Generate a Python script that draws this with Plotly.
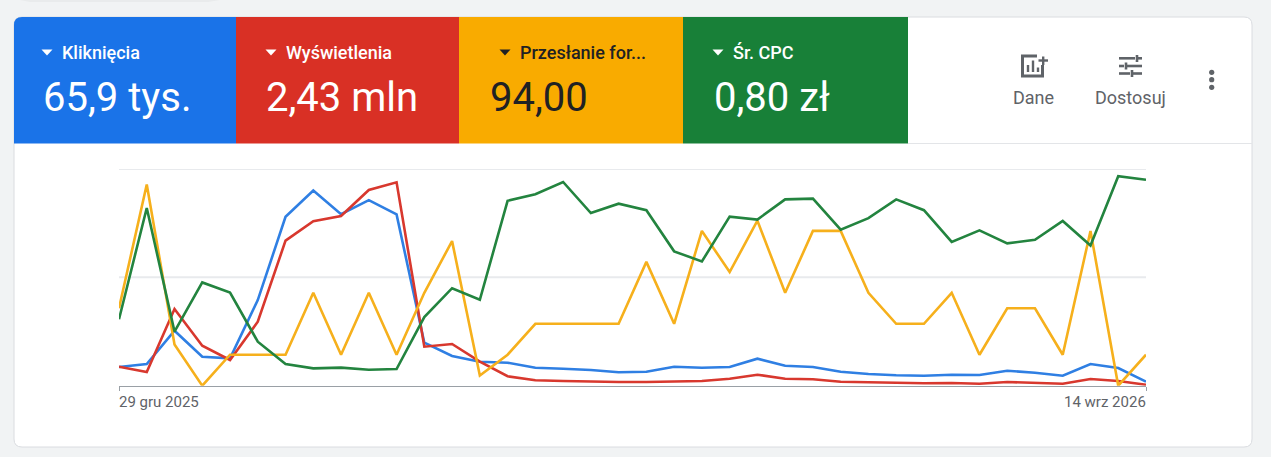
import pandas as pd
import plotly.graph_objects as go

W, H = 1271, 457

weeks = pd.date_range("2025-12-29", "2026-09-14", freq="7D")
clicks = [776,900,2283,1204,1137,3557,7014,8109,7126,7707,7113,1785,1233,996,955,747,706,652,556,581,789,747,776,1121,830,776,581,486,432,415,457,444,623,540,415,900,735,166]
impressions = [35100,25300,141600,73800,47400,118100,267700,303500,313300,361300,375500,72000,77000,44300,17400,10000,8700,7400,6800,6800,8100,8700,12900,20300,12900,11800,7400,6300,5000,4400,5000,3700,6800,5500,3700,12400,8700,1800]
form_submits = [2.5,6.5,1.33,0,1,1,1,3,1,3,1,3,4.67,0.33,1,2,2,2,2,4,2,5,3.67,5.33,3,5,5,3,2,2,3,1,2.5,2.5,1,5,0,1]
avg_cpc = [0.92,2.46,0.75,1.43,1.29,0.61,0.30,0.24,0.25,0.22,0.23,0.95,1.35,1.19,2.56,2.65,2.82,2.39,2.52,2.43,1.86,1.72,2.34,2.30,2.58,2.59,2.16,2.32,2.58,2.43,1.99,2.15,1.97,2.02,2.28,1.94,2.90,2.85]

tile_titles = ["Kliknięcia", "Wyświetlenia", "Przesłanie for...", "Śr. CPC"]
tile_values = ["65,9 tys.", "2,43 mln", "94,00", "0,80 zł"]
tile_colors = ["#1a73e8", "#d93025", "#f9ab00", "#188038"]
line_colors = ["#2f7fe3", "#d8382e", "#f6b01c", "#23843f"]
x_labels = ["29 gru 2025", "14 wrz 2026"]

def px(x): return x / W
def py(y): return 1 - y / H

def rect(x0, y0, x1, y1, fill, line=None, lw=0):
    return dict(type="rect", xref="paper", yref="paper", x0=px(x0), x1=px(x1), y0=py(y0), y1=py(y1),
                fillcolor=fill, line=dict(color=line or fill, width=lw), layer="below")

def path(points, fill=None, line=None, lw=0, close=False, layer="above"):
    d = "M " + " L ".join(f"{px(a):.5f},{py(b):.5f}" for a, b in points) + (" Z" if close else "")
    return dict(type="path", xref="paper", yref="paper", path=d, fillcolor=fill or "rgba(0,0,0,0)",
                line=dict(color=line or "rgba(0,0,0,0)", width=lw), layer=layer)

def circle(cx, cy, r, fill):
    return dict(type="circle", xref="paper", yref="paper", x0=px(cx - r), x1=px(cx + r), y0=py(cy + r), y1=py(cy - r),
                fillcolor=fill, line=dict(width=0), layer="above")

def text(x, y, s, size, color, anchor="left", weight=400, xref="paper", font="Roboto", xshift=0):
    return dict(x=px(x) if xref == "paper" else x, y=py(y), xref=xref, yref="paper", text=s, showarrow=False,
                xanchor=anchor, yanchor="middle", xshift=xshift, borderpad=0, borderwidth=0,
                font=dict(family=font, size=size, color=color, weight=weight))

fig = go.Figure()
fig.add_trace(go.Scatter(x=weeks, y=clicks, name="Kliknięcia", yaxis="y", line=dict(color=line_colors[0], width=2.6), mode="lines", cliponaxis=False))
fig.add_trace(go.Scatter(x=weeks, y=impressions, name="Wyświetlenia", yaxis="y2", line=dict(color=line_colors[1], width=2.6), mode="lines", cliponaxis=False))
fig.add_trace(go.Scatter(x=weeks, y=form_submits, name="Przesłanie formularza", yaxis="y3", line=dict(color=line_colors[2], width=2.6), mode="lines", cliponaxis=False))
fig.add_trace(go.Scatter(x=weeks, y=avg_cpc, name="Śr. CPC", yaxis="y4", line=dict(color=line_colors[3], width=2.6), mode="lines", cliponaxis=False))

dom = [py(385.7), py(169)]
hidden = dict(domain=dom, showticklabels=False, showgrid=False, zeroline=False, overlaying="y", showline=False, ticks="")

shapes = [
    path([(20, 0), (220, 0), (208, 2), (30, 2)], fill="#e9ebec", layer="below"),
    dict(type="path", xref="paper", yref="paper", layer="below", fillcolor="#ffffff", line=dict(color="#dadce0", width=1),
         path=f"M {px(14)},{py(25)} Q {px(14)},{py(17)} {px(22)},{py(17)} L {px(1244)},{py(17)} Q {px(1252)},{py(17)} {px(1252)},{py(25)} "
              f"L {px(1252)},{py(439)} Q {px(1252)},{py(447)} {px(1244)},{py(447)} L {px(22)},{py(447)} Q {px(14)},{py(447)} {px(14)},{py(439)} Z"),
    dict(type="path", xref="paper", yref="paper", layer="below", fillcolor=tile_colors[0], line=dict(width=0),
         path=f"M {px(14)},{py(143.5)} L {px(14)},{py(25)} Q {px(14)},{py(17)} {px(22)},{py(17)} L {px(236)},{py(17)} L {px(236)},{py(143.5)} Z"),
    rect(236, 17, 459, 143.5, tile_colors[1]),
    rect(459, 17, 683, 143.5, tile_colors[2]),
    rect(683, 17, 908, 143.5, tile_colors[3]),
    rect(908, 143, 1252, 144, "#e3e5e8"),
    dict(type="line", xref="x", yref="y", x0=weeks[0], x1=weeks[-1], y0=9000, y1=9000, line=dict(color="#e8eaed", width=2), layer="below"),
    dict(type="line", xref="x", yref="y", x0=weeks[0], x1=weeks[-1], y0=4500, y1=4500, line=dict(color="#e8eaed", width=2), layer="below"),
]
annotations = []
title_x = [62, 286, 520, 733]
value_x = [42.5, 266, 489.5, 713.5]
arrow_x = [47, 271, 505, 718]
for i in range(4):
    ink = "#202124" if i == 2 else "#ffffff"
    ax = arrow_x[i]
    shapes.append(path([(ax - 5.5, 49.5), (ax + 5.5, 49.5), (ax, 55.5)], fill=ink, close=True))
    annotations.append(text(title_x[i], 52, tile_titles[i], 18, ink, weight=500))
    annotations.append(text(value_x[i], 97.5, tile_values[i], 40, ink))

grey = "#5f6368"
shapes += [
    path([(1037, 56), (1022.5, 56), (1022.5, 76), (1042.5, 76), (1042.5, 65)], line=grey, lw=3),
    path([(1028, 72), (1028, 65)], line=grey, lw=2.4),
    path([(1033, 72), (1033, 60.5)], line=grey, lw=2.4),
    path([(1038, 72), (1038, 67.5)], line=grey, lw=2.4),
    path([(1038.5, 60.5), (1048, 60.5)], line=grey, lw=2.4),
    path([(1043.2, 56.5), (1043.2, 65)], line=grey, lw=2.4),
    path([(1119, 58.3), (1135, 58.3)], line=grey, lw=2.6),
    path([(1138, 58.3), (1142, 58.3)], line=grey, lw=2.6),
    path([(1137, 55), (1137, 62)], line=grey, lw=2.6),
    path([(1119, 66), (1124, 66)], line=grey, lw=2.6),
    path([(1127, 66), (1142, 66)], line=grey, lw=2.6),
    path([(1126, 62.5), (1126, 69.5)], line=grey, lw=2.6),
    path([(1119, 73.5), (1130, 73.5)], line=grey, lw=2.6),
    path([(1133, 73.5), (1142, 73.5)], line=grey, lw=2.6),
    path([(1132, 70), (1132, 77)], line=grey, lw=2.6),
    circle(1211.7, 72.3, 2.6, grey),
    circle(1211.7, 79.7, 2.6, grey),
    circle(1211.7, 87.3, 2.6, grey),
]
annotations.append(text(1033.5, 97, "Dane", 18, grey, anchor="center"))
annotations.append(text(1130.5, 97, "Dostosuj", 18, grey, anchor="center"))

annotations.append(text(str(weeks[0].date()), 401.5, x_labels[0], 15, grey, anchor="left", xref="x"))
annotations.append(text(str(weeks[-1].date()), 401.5, x_labels[1], 15, grey, anchor="right", xref="x"))

fig.update_layout(
    width=W, height=H, autosize=False,
    margin=dict(l=0, r=0, t=0, b=0, pad=0),
    paper_bgcolor="#f1f3f4", plot_bgcolor="rgba(0,0,0,0)",
    showlegend=False,
    shapes=shapes, annotations=annotations,
    xaxis=dict(domain=[px(119), px(1146)], range=[weeks[0], weeks[-1]], type="date",
               tickvals=[weeks[0], weeks[-1]], ticktext=["", ""], ticks="outside", ticklen=4, tickwidth=1,
               tickcolor="#9aa0a6", showgrid=False, showline=True, linecolor="#9aa0a6", linewidth=1, zeroline=False),
    yaxis=dict(domain=dom, range=[0, 9000], showticklabels=False, ticks="",
               showgrid=False, zeroline=False, showline=False),
    yaxis2=dict(range=[0, 400000], **hidden),
    yaxis3=dict(range=[0, 7], **hidden),
    yaxis4=dict(range=[0, 3], **hidden),
)

fig.write_html("out.html", config={"displayModeBar": False},
               post_script="document.documentElement.style.margin='0';document.body.style.margin='0';document.body.style.overflow='hidden';")
